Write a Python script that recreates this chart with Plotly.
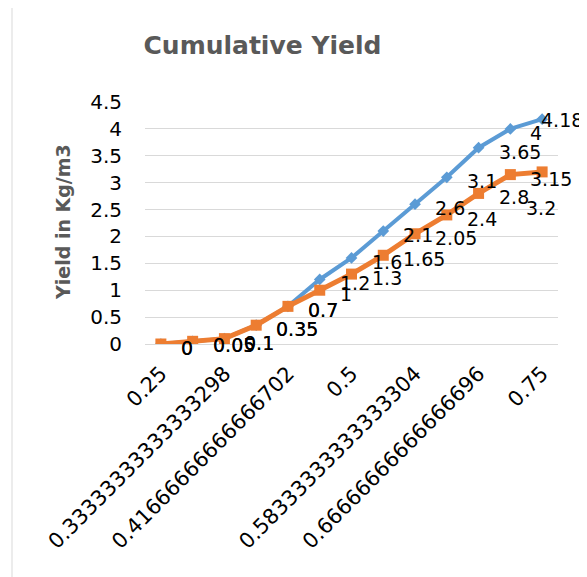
import plotly.graph_objects as go

# ---- data ----
categories = ["0.25", "0.29166666666666702", "0.33333333333333298", "0.375",
              "0.41666666666666702", "0.45833333333333298", "0.5",
              "0.54166666666666696", "0.58333333333333304", "0.625",
              "0.66666666666666696", "0.70833333333333304", "0.75"]
tick_labels = categories[::2]
series_blue = [0, 0.05, 0.1, 0.35, 0.7, 1.2, 1.6, 2.1, 2.6, 3.1, 3.65, 4, 4.18]
series_orange = [0, 0.05, 0.1, 0.35, 0.7, 1, 1.3, 1.65, 2.05, 2.4, 2.8, 3.15, 3.2]
y_ticks = [0, 0.5, 1, 1.5, 2, 2.5, 3, 3.5, 4, 4.5]

# page body has an 8px margin, so figure coordinates = page coordinates - 8
W, H = 579, 569
L, R, T, B = 137, 29, 94, 233
PW, PH = W - L - R, H - T - B

BLUE = "#5B9BD5"
ORANGE = "#ED7D31"
FONT = "DejaVu Sans"

fig = go.Figure()
fig.add_trace(go.Scatter(x=categories, y=series_blue, mode="lines+markers",
                         line=dict(color=BLUE, width=4),
                         marker=dict(symbol="diamond", size=9, color=BLUE),
                         showlegend=False))
fig.add_trace(go.Scatter(x=categories, y=series_orange, mode="lines+markers",
                         line=dict(color=ORANGE, width=5),
                         marker=dict(symbol="square", size=11, color=ORANGE),
                         showlegend=False))

annotations = []
n = len(categories)
for series, last_shift in ((series_blue, (-3, -1)), (series_orange, (-18, -36))):
    for i, v in enumerate(series):
        xs, ys = 18, -4
        if i == n - 1:
            xs, ys = last_shift
        annotations.append(dict(x=i, y=v, xref="x", yref="y",
                                text=f"{v:g}", showarrow=False,
                                xanchor="left", yanchor="middle",
                                xshift=xs, yshift=ys,
                                font=dict(family=FONT, size=19, color="#000000")))

annotations.append(dict(text="<b>Yield in Kg/m3</b>", xref="paper", yref="paper",
                        x=(55 - L) / PW, y=(H - B - 214) / PH, textangle=-90,
                        showarrow=False, xanchor="center", yanchor="middle",
                        font=dict(family=FONT, size=19, color="#595959")))

fig.update_layout(
    width=W, height=H,
    margin=dict(l=L, r=R, t=T, b=B),
    paper_bgcolor="white", plot_bgcolor="white",
    title=dict(text="<b>Cumulative Yield</b>", x=254.5 / W, xanchor="center",
               y=1 - 37 / H, yanchor="middle", xref="container", yref="container",
               font=dict(family=FONT, size=25, color="#595959")),
    annotations=annotations,
    shapes=[dict(type="rect", xref="paper", yref="paper",
                 x0=(4 - L) / PW, x1=(W + 20 - L) / PW,
                 y0=-(B + 20) / PH, y1=(H - B + 5) / PH,
                 line=dict(color="#D9D9D9", width=1), layer="below")],
)
fig.update_xaxes(type="category", range=[-0.5, n - 0.5],
                 tickmode="array", tickvals=tick_labels, ticktext=tick_labels,
                 tickangle=-45, showgrid=False, zeroline=False,
                 showline=True, linecolor="#D9D9D9", linewidth=1,
                 ticks="", ticklabelstandoff=8,
                 tickfont=dict(family=FONT, size=21, color="#000000"))
fig.update_yaxes(range=[0, 4.5], tickmode="array", tickvals=y_ticks,
                 ticktext=[f"{t:g}" for t in y_ticks],
                 showgrid=True, gridcolor="#D9D9D9", gridwidth=1,
                 zeroline=False, showline=False, ticks="",
                 ticklabelstandoff=22,
                 tickfont=dict(family=FONT, size=20, color="#000000"))

fig.write_html("out.html")
